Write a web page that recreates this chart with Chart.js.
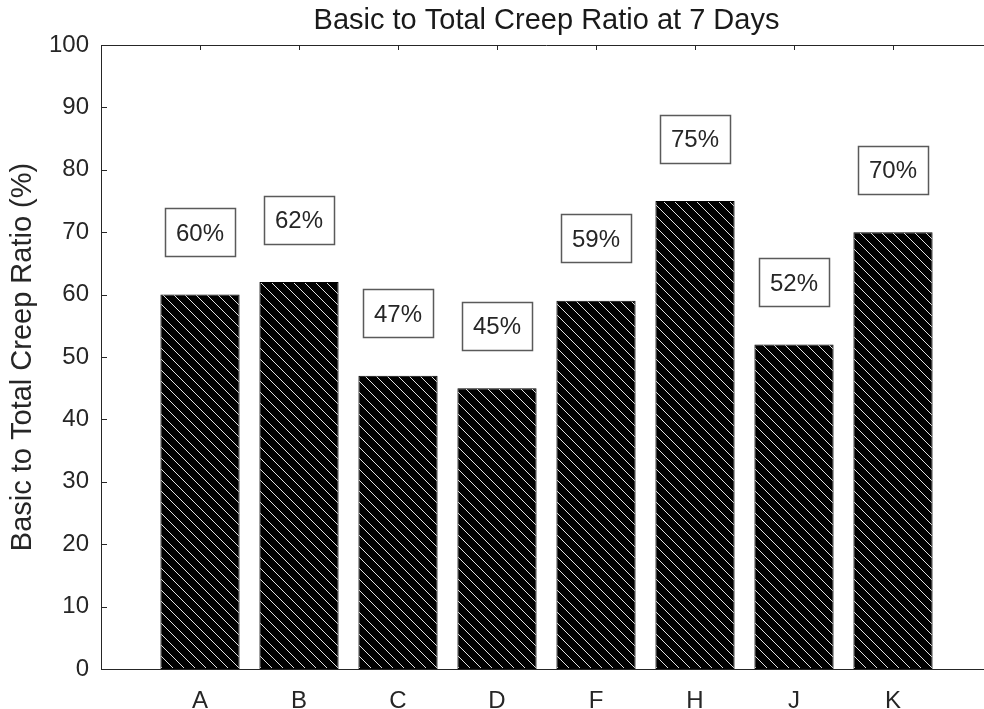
<!DOCTYPE html>
<html>
<head>
<meta charset="utf-8">
<script src="https://cdn.jsdelivr.net/npm/chart.js@4.4.1/dist/chart.umd.min.js"></script>
<style>
  html, body { margin: 0; padding: 0; background: #fff; overflow: hidden; }
  #wrap { width: 1000px; height: 709px; }
</style>
</head>
<body>
<div id="wrap"><canvas id="creep" width="1000" height="709"></canvas></div>
<script>
// Basic to total creep ratio at 7 days, one bar per mix
const categories = ['A', 'B', 'C', 'D', 'F', 'H', 'J', 'K'];
const ratios = [60, 62, 47, 45, 59, 75, 52, 70];
const yTicks = [0, 10, 20, 30, 40, 50, 60, 70, 80, 90, 100];
const chartTitle = 'Basic to Total Creep Ratio at 7 Days';

const FONT = "'Liberation Sans', Arial, Helvetica, sans-serif";
const AXIS = '#262626';
const LABEL_OFFSET = 10; // label boxes sit 10 units above each bar

const canvas = document.getElementById('creep');
const mainCtx = canvas.getContext('2d');

// black fill with thin light diagonal hatching (\ direction)
function hatchPattern() {
  const s = 11;
  const c = document.createElement('canvas');
  c.width = s;
  c.height = s;
  const g = c.getContext('2d');
  g.fillStyle = '#000';
  g.fillRect(0, 0, s, s);
  g.strokeStyle = '#e0e0e0';
  g.lineWidth = 1;
  g.beginPath();
  g.moveTo(-2, -2); g.lineTo(s + 2, s + 2);
  g.moveTo(-2, s - 2); g.lineTo(2, s + 2);
  g.moveTo(s - 2, -2); g.lineTo(s + 2, 2);
  g.stroke();
  return mainCtx.createPattern(c, 'repeat');
}

// title centred over the axes, top border + inward ticks (MATLAB style box)
const frame = {
  id: 'frame',
  afterDraw(chart) {
    const { ctx, chartArea: a, scales: { x, y } } = chart;
    ctx.save();
    ctx.fillStyle = '#1a1a1a';
    ctx.font = '29px ' + FONT;
    ctx.textAlign = 'center';
    ctx.textBaseline = 'middle';
    ctx.fillText(chartTitle, (a.left + a.right) / 2, a.top - 24.5);

    ctx.strokeStyle = AXIS;
    ctx.lineWidth = 1;
    ctx.beginPath();
    ctx.moveTo(a.left, a.top + 0.5);
    ctx.lineTo(a.right, a.top + 0.5);
    categories.forEach((c, i) => {
      const px = Math.round(x.getPixelForValue(i + 1)) + 0.5;
      ctx.moveTo(px, a.top);
      ctx.lineTo(px, a.top + 5);
    });
    yTicks.forEach(v => {
      const py = Math.round(y.getPixelForValue(v)) + 0.5;
      ctx.moveTo(a.left, py);
      ctx.lineTo(a.left + 6, py);
    });
    ctx.stroke();
    ctx.restore();
  }
};

// boxed percentage labels above the bars
const boxLabels = {
  id: 'boxLabels',
  afterDatasetsDraw(chart) {
    const { ctx, scales: { x, y } } = chart;
    ctx.save();
    ctx.font = '24px ' + FONT;
    ctx.textAlign = 'center';
    ctx.textBaseline = 'middle';
    ratios.forEach((v, i) => {
      const cx = x.getPixelForValue(i + 1);
      const cy = y.getPixelForValue(v + LABEL_OFFSET);
      const text = v + '%';
      const w = Math.round(ctx.measureText(text).width + 22);
      const h = 48;
      const bx = Math.round(cx - w / 2) + 0.5;
      const by = Math.round(cy - h / 2) + 0.5;
      ctx.fillStyle = '#fff';
      ctx.fillRect(bx, by, w, h);
      ctx.strokeStyle = '#5a5a5a';
      ctx.lineWidth = 1.5;
      ctx.strokeRect(bx, by, w, h);
      ctx.fillStyle = '#262626';
      ctx.fillText(text, cx, cy + 2);
    });
    ctx.restore();
  }
};

new Chart(canvas, {
  type: 'bar',
  data: {
    datasets: [{
      data: categories.map((c, i) => ({ x: i + 1, y: ratios[i] })),
      backgroundColor: hatchPattern(),
      borderColor: '#000',
      borderWidth: 1,
      borderSkipped: false,
      barPercentage: 0.8,
      categoryPercentage: 1
    }]
  },
  options: {
    responsive: false,
    devicePixelRatio: 1,
    animation: false,
    layout: { padding: { left: 0, right: 8, top: 45, bottom: 0 } },
    plugins: {
      legend: { display: false },
      tooltip: { enabled: false },
      title: { display: false }
    },
    scales: {
      x: {
        type: 'linear',
        min: 0,
        max: categories.length + 1,
        offset: false,
        grid: { display: false, drawTicks: false, offset: false },
        border: { display: true, color: AXIS, width: 1 },
        afterBuildTicks: s => { s.ticks = categories.map((c, i) => ({ value: i + 1 })); },
        ticks: {
          autoSkip: false,
          maxRotation: 0,
          color: AXIS,
          padding: 18,
          font: { family: FONT, size: 24 },
          callback: v => categories[v - 1] || ''
        },
        afterFit: s => { s.height = 40; }
      },
      y: {
        min: 0,
        max: 100,
        grid: { display: false, drawTicks: false },
        border: { display: true, color: AXIS, width: 1 },
        afterBuildTicks: s => { s.ticks = yTicks.map(v => ({ value: v })); },
        ticks: {
          color: AXIS,
          padding: 12,
          font: { family: FONT, size: 24 }
        },
        title: {
          display: true,
          text: 'Basic to Total Creep Ratio (%)',
          color: AXIS,
          font: { family: FONT, size: 29, lineHeight: 1.2 },
          padding: { top: 6, bottom: 0 }
        },
        afterFit: s => { s.width = 101; }
      }
    }
  },
  plugins: [frame, boxLabels]
});
</script>
</body>
</html>
